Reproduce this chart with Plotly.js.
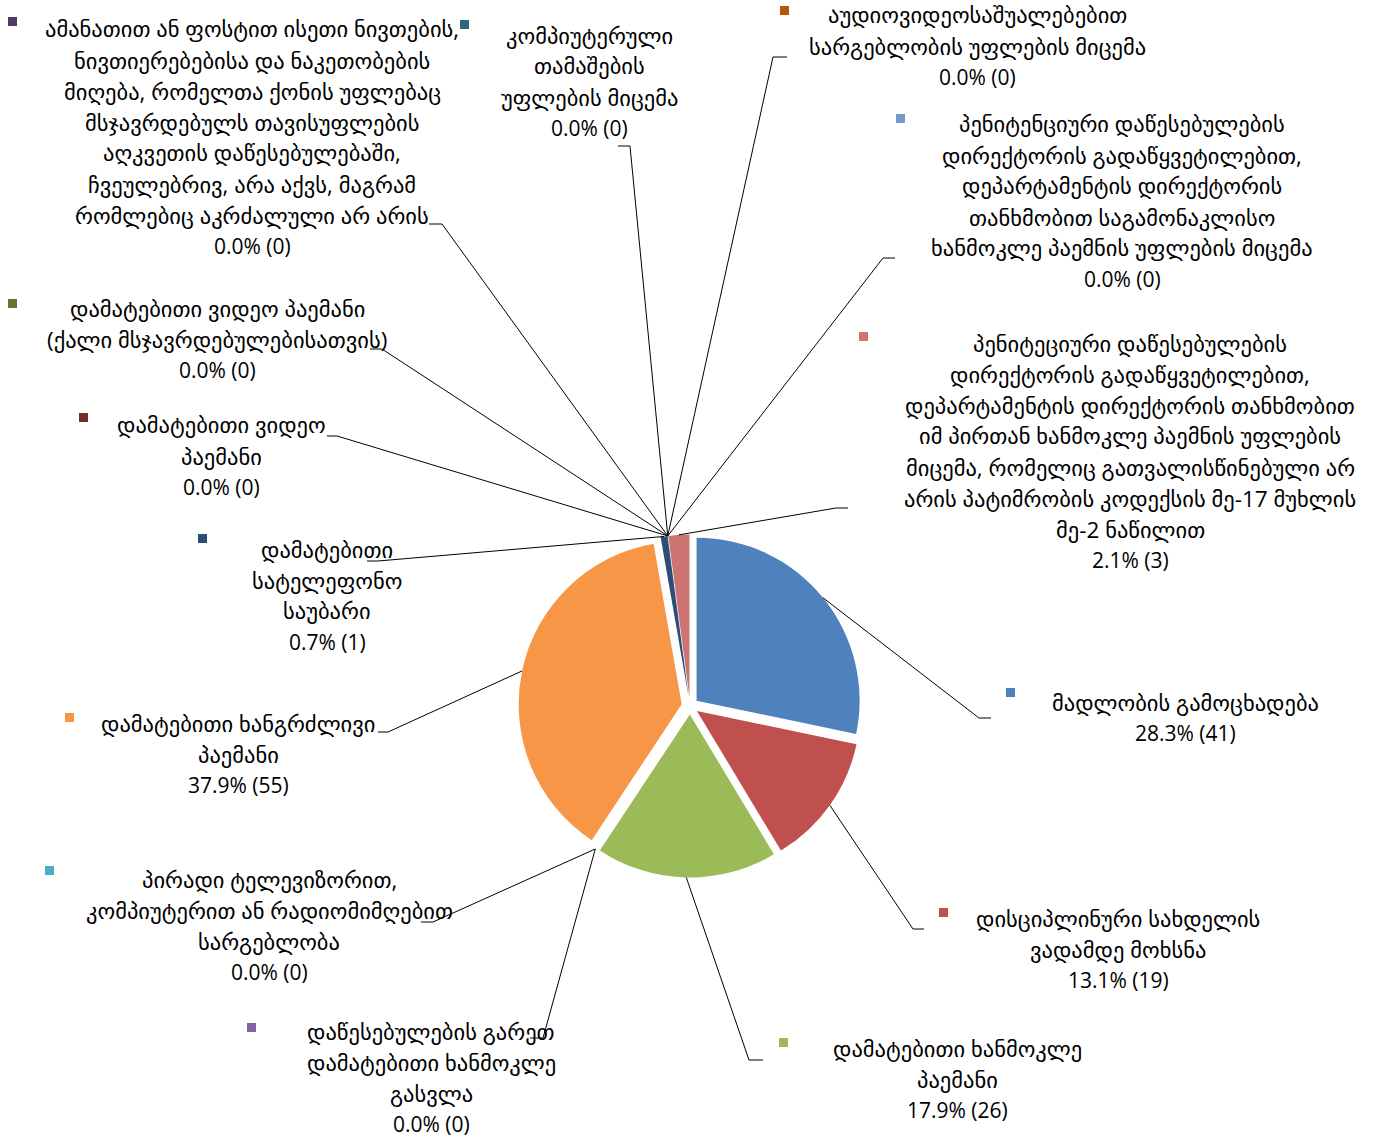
<!DOCTYPE html>
<html>
<head>
<meta charset="utf-8">
<script src="https://cdn.plot.ly/plotly-3.0.1.min.js"></script>
<style>html,body{margin:0;padding:0;background:#fff;}#chart{width:1381px;height:1139px;}</style>
</head>
<body>
<div id="chart"></div>
<script>
// ---------------- DATA ----------------
const labelLines = [
  ["მადლობის გამოცხადება"],
  ["დისციპლინური სახდელის", "ვადამდე მოხსნა"],
  ["დამატებითი ხანმოკლე", "პაემანი"],
  ["დაწესებულების გარეთ", "დამატებითი ხანმოკლე", "გასვლა"],
  ["პირადი ტელევიზორით,", "კომპიუტერით ან რადიომიმღებით", "სარგებლობა"],
  ["დამატებითი ხანგრძლივი", "პაემანი"],
  ["დამატებითი", "სატელეფონო", "საუბარი"],
  ["დამატებითი ვიდეო", "პაემანი"],
  ["დამატებითი ვიდეო პაემანი", "(ქალი მსჯავრდებულებისათვის)"],
  ["ამანათით ან ფოსტით ისეთი ნივთების,", "ნივთიერებებისა და ნაკეთობების", "მიღება, რომელთა ქონის უფლებაც", "მსჯავრდებულს თავისუფლების", "აღკვეთის დაწესებულებაში,", "ჩვეულებრივ, არა აქვს, მაგრამ", "რომლებიც აკრძალული არ არის"],
  ["კომპიუტერული", "თამაშების", "უფლების მიცემა"],
  ["აუდიოვიდეოსაშუალებებით", "სარგებლობის უფლების მიცემა"],
  ["პენიტენციური დაწესებულების", "დირექტორის გადაწყვეტილებით,", "დეპარტამენტის დირექტორის", "თანხმობით საგამონაკლისო", "ხანმოკლე პაემნის უფლების მიცემა"],
  ["პენიტეციური დაწესებულების", "დირექტორის გადაწყვეტილებით,", "დეპარტამენტის დირექტორის თანხმობით", "იმ პირთან ხანმოკლე პაემნის უფლების", "მიცემა, რომელიც გათვალისწინებული არ", "არის პატიმრობის კოდექსის მე-17 მუხლის", "მე-2 ნაწილით"]
];
const categories = labelLines.map(l => l.join(" "));
const values = [41, 19, 26, 0, 0, 55, 1, 0, 0, 0, 0, 0, 0, 3];

// ---------------- STYLE / LAYOUT ----------------
const colors = ["#4F81BD","#C0504D","#9BBB59","#8064A2","#4BACC6","#F79646","#2C4D75",
                "#772C2A","#5F7530","#4D3B62","#276A7C","#B65708","#729ACA","#CD7371"];
const W = 1381, H = 1139;
const pieBoxPx = {x0: 518.5, x1: 861.5, y0: 534.5, y1: 877.5}; // square pie domain in px
const pullFrac = 0.052;

// label placement (px): centre x, y of last line, line step
const labelCx    = [1185, 1118, 957, 431, 269, 238, 327, 221, 217, 252, 589, 977, 1122, 1130];
const labelLastY = [ 733,  980,1110,1124, 972, 785, 642, 487, 370, 246, 128,  77,  279,  560];
const lineStep = 31;
const textFontSize = 22.5;
const numFontSize = 21;
// legend key squares (px centre)
const keyX = [1010.5, 943.5, 783, 251, 49.5, 69.5, 202.5, 83.5, 12, 12, 464, 784.5, 900.5, 863];
const keyY = [ 692.5, 912.5,1042,1027, 870.5, 717.5, 538.5, 417.5, 303, 22, 25, 10.5, 119, 337];
const keySize = 9;
// leader elbows (px) and horizontal stub ends (px)
const elbowX = [979, 913, 749, 543, 433, 388, 378, 337, 382, 442, 630, 773, 883, 836];
const elbowY = [718, 929,1060,1038, 922, 732, 561, 436, 349, 224, 146,  57, 258, 508];
const stubX  = [991, 924, 763, 530, 421, 378, 367, 327, 370, 429, 618, 787, 895, 848];

// ---------------- BUILD ----------------
const px = x => x / W;
const py = y => 1 - y / H;
const total = values.reduce((a, b) => a + b, 0);
const cx = (pieBoxPx.x0 + pieBoxPx.x1) / 2;
const cy = (pieBoxPx.y0 + pieBoxPx.y1) / 2;
const Rout = (pieBoxPx.x1 - pieBoxPx.x0) / 2;

const shapes = [];
const annotations = [];
let cum = 0;
values.forEach((v, i) => {
  const a = (cum + v / 2) / total * 2 * Math.PI;
  cum += v;
  const ex = cx + Rout * Math.sin(a);
  const ey = cy - Rout * Math.cos(a);
  shapes.push({type: "line", xref: "paper", yref: "paper",
    x0: px(ex), y0: py(ey), x1: px(elbowX[i]), y1: py(elbowY[i]),
    line: {color: "#000", width: 1}});
  shapes.push({type: "line", xref: "paper", yref: "paper",
    x0: px(elbowX[i]), y0: py(elbowY[i]), x1: px(stubX[i]), y1: py(elbowY[i]),
    line: {color: "#000", width: 1}});
  const pct = (v / total * 100).toFixed(1) + "% (" + v + ")";
  const lines = labelLines[i].concat([pct]);
  const n = lines.length;
  lines.forEach((t, k) => {
    annotations.push({
      xref: "paper", yref: "paper",
      x: px(labelCx[i]), y: py(labelLastY[i] - (n - 1 - k) * lineStep),
      xanchor: "center", yanchor: "middle", showarrow: false,
      text: t,
      font: {family: "Open Sans, DejaVu Sans, sans-serif",
             size: k === n - 1 ? numFontSize : textFontSize, color: "#000"}
    });
  });
});
// legend keys drawn above the texts
values.forEach((v, i) => {
  annotations.push({
    xref: "paper", yref: "paper", x: px(keyX[i]), y: py(keyY[i]),
    xanchor: "center", yanchor: "middle", showarrow: false,
    text: "", width: keySize, height: keySize, bgcolor: colors[i], borderpad: 0, borderwidth: 0
  });
});

const trace = {
  type: "pie",
  labels: categories,
  values: values,
  sort: false,
  direction: "clockwise",
  rotation: 0,
  pull: values.map(() => pullFrac),
  marker: {colors: colors, line: {width: 0}},
  textinfo: "none",
  hoverinfo: "label+value+percent",
  showlegend: false,
  domain: {x: [px(pieBoxPx.x0), px(pieBoxPx.x1)], y: [py(pieBoxPx.y1), py(pieBoxPx.y0)]}
};

const layout = {
  width: W, height: H,
  margin: {l: 0, r: 0, t: 0, b: 0},
  paper_bgcolor: "#fff",
  showlegend: false,
  shapes: shapes,
  annotations: annotations
};

Plotly.newPlot("chart", [trace], layout, {displayModeBar: false, staticPlot: true});
</script>
</body>
</html>
